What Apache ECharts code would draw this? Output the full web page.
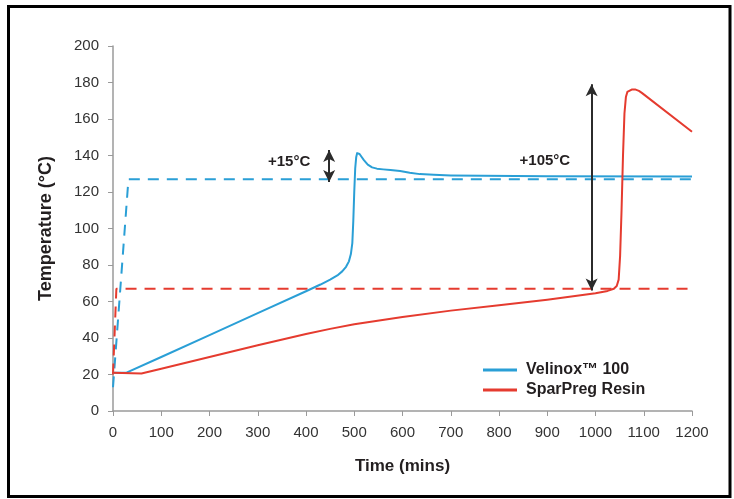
<!DOCTYPE html>
<html>
<head>
<meta charset="utf-8">
<script src="https://cdn.jsdelivr.net/npm/echarts@6/dist/echarts.min.js"></script>
<style>
  html, body { margin: 0; padding: 0; background: #fff; }
  #chart { width: 734px; height: 499px; }
</style>
</head>
<body>
<div id="chart"></div>
<script>
// cure temperature vs time
let velinoxTime = [0, 28, 100, 200, 300, 400, 430, 450, 465, 475, 483, 489, 493, 496, 498, 500, 502, 504, 506, 508, 511, 515, 520, 528, 537, 547, 560, 575, 595, 615, 636, 665, 700, 767, 900, 1200]
let velinoxTemp = [21, 21, 29.6, 41.6, 53.6, 65.6, 69.3, 72, 74.3, 76.5, 79, 82, 86, 92, 104, 120, 133, 139, 141.3, 141.5, 140.8, 139.3, 137.5, 135, 133.5, 132.8, 132.4, 132, 131.5, 130.6, 129.8, 129.4, 129.1, 128.9, 128.6, 128.5]

let sparTime = [0, 59, 100, 200, 300, 400, 450, 500, 600, 700, 800, 900, 1000, 1025, 1038, 1044, 1048, 1051, 1054, 1057, 1060, 1063, 1066, 1070, 1076, 1082, 1090, 1096, 1200]
let sparTemp = [21, 20.5, 23.2, 29.6, 36, 42.2, 45, 47.5, 51.5, 55, 58, 61, 64.5, 65.8, 67, 68.5, 72, 85, 110, 140, 163, 172, 174.8, 175.8, 176.2, 176.2, 175.4, 174.3, 153]

// set points (dashed)
let velinoxSetTime = [0, 32, 1200]
let velinoxSetTemp = [13, 127, 127]
let sparSetTime = [0, 7, 1200]
let sparSetTemp = [20, 67, 67]

// annotations
let arrowSmall = [[448, 125.5], [448, 143]]
let arrowBig = [[992, 66], [992, 179]]
let labels = [
  { text: '+15°C', at: [365, 136.5] },
  { text: '+105°C', at: [895, 137] }
]

let blue = '#2a9fd6'
let red = '#e53b2f'
let textColor = '#231f20'
let font = 'Liberation Sans'

function zip (xs, ys) {
  return xs.map((x, i) => [x, ys[i]])
}

let chart = echarts.init(document.getElementById('chart'))

chart.setOption({
  animation: false,
  textStyle: { fontFamily: font },
  graphic: [{
    type: 'rect',
    shape: { x: 8.5, y: 6.5, width: 721.5, height: 490 },
    style: { fill: 'none', stroke: '#000', lineWidth: 3 },
    silent: true
  }],
  grid: { left: 113, right: 42, top: 46, bottom: 88 },
  legend: {
    orient: 'vertical',
    left: 478,
    top: 357,
    data: ['Velinox™ 100', 'SparPreg Resin'],
    icon: 'rect',
    itemWidth: 34,
    itemHeight: 3,
    itemGap: 4,
    textStyle: { fontSize: 16, fontWeight: 'bold', color: textColor, fontFamily: font, padding: [0, 0, 0, 4] }
  },
  xAxis: {
    type: 'value',
    min: 0,
    max: 1200,
    interval: 100,
    name: 'Time (mins)',
    nameLocation: 'middle',
    nameGap: 47,
    nameTextStyle: { fontSize: 17, fontWeight: 'bold', color: textColor },
    axisLine: { lineStyle: { color: '#9a9a9a', width: 1.5 } },
    axisTick: { show: true, length: 5, lineStyle: { color: '#9a9a9a' } },
    axisLabel: { fontSize: 15, color: '#333', margin: 14, formatter: (v) => String(v) },
    splitLine: { show: false }
  },
  yAxis: {
    type: 'value',
    min: 0,
    max: 200,
    interval: 20,
    name: 'Temperature (°C)',
    nameLocation: 'middle',
    nameGap: 58,
    nameTextStyle: { fontSize: 18, fontWeight: 'bold', color: textColor },
    axisLine: { show: true, lineStyle: { color: '#9a9a9a', width: 1.5 } },
    axisTick: { show: true, length: 5, lineStyle: { color: '#9a9a9a' } },
    axisLabel: { fontSize: 15, color: '#333', margin: 14 },
    splitLine: { show: false }
  },
  series: [
    {
      name: 'Velinox set',
      type: 'line',
      data: zip(velinoxSetTime, velinoxSetTemp),
      showSymbol: false,
      lineStyle: { color: blue, width: 2, type: [11, 8] },
      itemStyle: { color: blue },
      z: 2
    },
    {
      name: 'SparPreg set',
      type: 'line',
      data: zip(sparSetTime, sparSetTemp),
      showSymbol: false,
      lineStyle: { color: red, width: 2, type: [11, 8] },
      itemStyle: { color: red },
      z: 2
    },
    {
      name: 'Velinox™ 100',
      type: 'line',
      data: zip(velinoxTime, velinoxTemp),
      showSymbol: false,
      lineStyle: { color: blue, width: 2, join: 'round' },
      itemStyle: { color: blue },
      z: 3
    },
    {
      name: 'SparPreg Resin',
      type: 'line',
      data: zip(sparTime, sparTemp),
      showSymbol: false,
      lineStyle: { color: red, width: 2, join: 'round' },
      itemStyle: { color: red },
      z: 3,
      // double arrows + the delta labels
      markLine: {
        silent: true,
        symbol: ['arrow', 'arrow'],
        symbolSize: [9, 12],
        lineStyle: { color: '#2b2b2b', width: 2, type: 'solid' },
        label: { show: false },
        data: [
          [{ coord: arrowSmall[0] }, { coord: arrowSmall[1] }],
          [{ coord: arrowBig[0] }, { coord: arrowBig[1] }]
        ]
      },
      markPoint: {
        silent: true,
        symbol: 'circle',
        symbolSize: 0,
        label: {
          show: true,
          position: 'inside',
          fontSize: 15,
          fontWeight: 'bold',
          color: textColor,
          formatter: (p) => p.name
        },
        data: labels.map(l => ({ name: l.text, coord: l.at }))
      }
    }
  ]
})
</script>
</body>
</html>
